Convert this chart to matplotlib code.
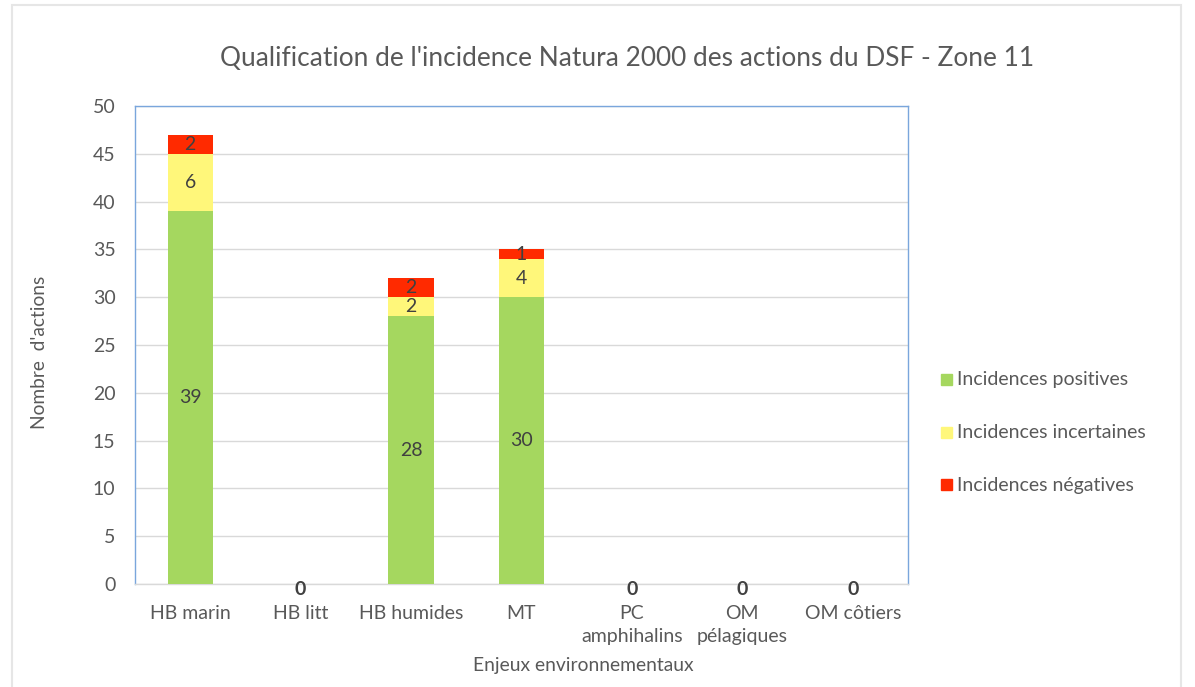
import matplotlib
matplotlib.use("Agg")
import matplotlib.pyplot as plt
from matplotlib.patches import Rectangle
import numpy as np

categories = ["HB marin", "HB litt", "HB humides", "MT", "PC\namphihalins", "OM\npélagiques", "OM côtiers"]
positives = [39, 0, 28, 30, 0, 0, 0]
incertaines = [6, 0, 2, 4, 0, 0, 0]
negatives = [2, 0, 2, 1, 0, 0, 0]
series_names = ["Incidences positives", "Incidences incertaines", "Incidences négatives"]
colors = ["#a5d75f", "#fff77a", "#ff2a00"]

plt.rcParams['font.family'] = ['Lato', 'DejaVu Sans']

W, H = 1195, 687
fig = plt.figure(figsize=(W / 100, H / 100), dpi=100)
ax = fig.add_axes([135 / W, 1 - 584 / H, (908 - 135) / W, (584 - 106) / H])

x = np.arange(len(categories))
bw = 0.41
pos = np.array(positives)
inc = np.array(incertaines)
neg = np.array(negatives)
b1 = ax.bar(x, pos, bw, color=colors[0], label=series_names[0], zorder=3)
b2 = ax.bar(x, inc, bw, bottom=pos, color=colors[1], label=series_names[1], zorder=3)
b3 = ax.bar(x, neg, bw, bottom=pos + inc, color=colors[2], label=series_names[2], zorder=3)

for bars, vals in [(b1, pos), (b2, inc), (b3, neg)]:
    labels = [str(v) if v != 0 else "" for v in vals]
    ax.bar_label(bars, labels=labels, label_type='center', fontsize=14, color="#404040", zorder=4)

total = pos + inc + neg
for xi, t in zip(x, total):
    if t == 0:
        ax.annotate("0", (xi, 0), xytext=(0, -4), textcoords="offset points",
                    ha="center", va="center", fontsize=14, fontweight="bold", color="#404040")

ax.set_xlim(-0.5, len(categories) - 0.5)
ax.set_ylim(0, 50)
ax.set_yticks(np.arange(0, 51, 5))
ax.set_xticks(x)
ax.set_xticklabels(categories, fontsize=14, color="#595959", linespacing=1.45)
ax.tick_params(axis='y', labelsize=14, colors="#595959", length=0, pad=14)
ax.tick_params(axis='x', length=0, pad=15)
ax.grid(axis='y', color="#d9d9d9", linewidth=1, zorder=0)
ax.set_axisbelow(True)
for s in ["left", "top", "right"]:
    ax.spines[s].set_color("#7aa6dc")
    ax.spines[s].set_linewidth(1)
ax.spines["bottom"].set_color("#d9d9d9")
ax.spines["bottom"].set_linewidth(1)

fig.text(627 / W, 1 - 58 / H, "Qualification de l'incidence Natura 2000 des actions du DSF - Zone 11",
         ha="center", va="center", fontsize=18.9, color="#595959")
fig.text(40 / W, 1 - 352 / H, "Nombre  d'actions", rotation=90, ha="center", va="center",
         fontsize=13.8, color="#595959")
fig.text(583 / W, 1 - 665 / H, "Enjeux environnementaux", ha="center", va="center",
         fontsize=13.9, color="#595959")

# legend
for i, (name, c) in enumerate(zip(series_names, colors)):
    yc = 380 + i * 52.5
    fig.patches.append(Rectangle((941 / W, 1 - (yc + 5) / H), 11 / W, 11 / H,
                                 transform=fig.transFigure, color=c, figure=fig))
    fig.text(957 / W, 1 - yc / H, name, ha="left", va="center", fontsize=14, color="#595959")

# chart frame
fig.patches.append(Rectangle((12 / W, -0.05), (1181 - 12) / W, 1.05 - 5 / H,
                             transform=fig.transFigure, fill=False, edgecolor="#e6e6e6",
                             linewidth=1.5, figure=fig))

fig.savefig("out.png", dpi=100)
